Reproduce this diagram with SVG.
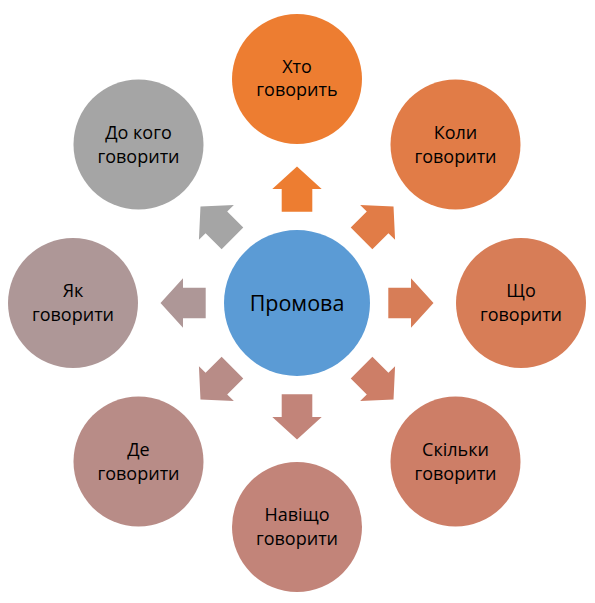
<svg xmlns="http://www.w3.org/2000/svg" width="595" height="603" viewBox="0 0 595 603">
<style>
text{font-family:"Open Sans","Noto Sans","DejaVu Sans",sans-serif;fill:#000;text-anchor:middle}
.n{font-size:18px}
.c{font-size:21.5px}
</style>
<defs>
<polygon id="arr" points="-15.3,-91.3 -15.3,-114 -24.7,-114 0,-136.5 24.7,-114 15.3,-114 15.3,-91.3"/>
</defs>
<rect width="595" height="603" fill="#fff"/>
<g id="connectors" transform="translate(297,303)">
<use href="#arr" fill="#ED7D31"/>
<use href="#arr" fill="#E17C47" transform="rotate(45)"/>
<use href="#arr" fill="#D77D57" transform="rotate(90)"/>
<use href="#arr" fill="#CD7E67" transform="rotate(135)"/>
<use href="#arr" fill="#C28479" transform="rotate(180)"/>
<use href="#arr" fill="#B88C87" transform="rotate(225)"/>
<use href="#arr" fill="#AE9797" transform="rotate(270)"/>
<use href="#arr" fill="#A5A5A5" transform="rotate(315)"/>
</g>
<g id="center">
<circle cx="297" cy="303" r="73" fill="#5B9BD5"/>
<text class="c" x="297" y="311">Промова</text>
</g>
<g id="n-hto">
<circle cx="297" cy="79" r="65" fill="#ED7D31"/>
<text class="n" x="297" y="73">Хто</text>
<text class="n" x="297" y="96">говорить</text>
</g>
<g id="n-koly">
<circle cx="455.5" cy="144.5" r="65" fill="#E17C47"/>
<text class="n" x="455.5" y="139">Коли</text>
<text class="n" x="455.5" y="163">говорити</text>
</g>
<g id="n-scho">
<circle cx="521" cy="303" r="65" fill="#D77D57"/>
<text class="n" x="521" y="297">Що</text>
<text class="n" x="521" y="321">говорити</text>
</g>
<g id="n-skilky">
<circle cx="455.5" cy="461.5" r="65" fill="#CD7E67"/>
<text class="n" x="455.5" y="456">Скільки</text>
<text class="n" x="455.5" y="480">говорити</text>
</g>
<g id="n-navischo">
<circle cx="297" cy="527" r="65" fill="#C28479"/>
<text class="n" x="297" y="521">Навіщо</text>
<text class="n" x="297" y="545">говорити</text>
</g>
<g id="n-de">
<circle cx="138.5" cy="461.5" r="65" fill="#B88C87"/>
<text class="n" x="138.5" y="456">Де</text>
<text class="n" x="138.5" y="480">говорити</text>
</g>
<g id="n-yak">
<circle cx="73" cy="303" r="65" fill="#AE9797"/>
<text class="n" x="73" y="297">Як</text>
<text class="n" x="73" y="321">говорити</text>
</g>
<g id="n-do-koho">
<circle cx="138.5" cy="144.5" r="65" fill="#A5A5A5"/>
<text class="n" x="138.5" y="139">До кого</text>
<text class="n" x="138.5" y="163">говорити</text>
</g>
</svg>
